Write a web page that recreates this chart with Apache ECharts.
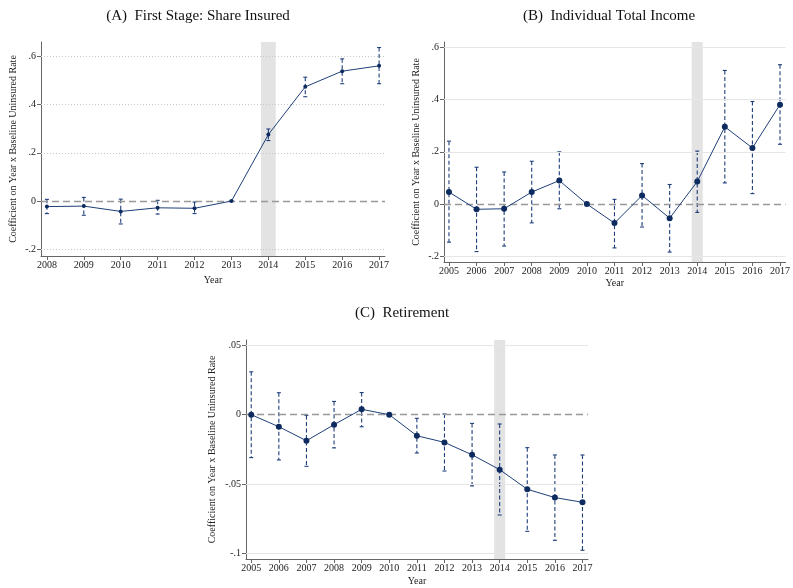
<!DOCTYPE html>
<html>
<head>
<meta charset="utf-8">
<script src="https://cdn.jsdelivr.net/npm/echarts@6/dist/echarts.min.js"></script>
<style>
  html, body { margin: 0; padding: 0; background: #fff; }
  #main { width: 793px; height: 588px; }
</style>
</head>
<body>
<div id="main"></div>
<script>
// Panel A: First Stage
var yearsA = [2008, 2009, 2010, 2011, 2012, 2013, 2014, 2015, 2016, 2017];
var coefA = [-0.023, -0.021, -0.043, -0.028, -0.030, 0, 0.276, 0.474, 0.539, 0.561];
var loA = [-0.052, -0.059, -0.095, -0.054, -0.052, 0, 0.251, 0.433, 0.487, 0.487];
var hiA = [0.007, 0.015, 0.008, 0.003, -0.004, 0, 0.299, 0.514, 0.590, 0.637];
var yTicksA = [-0.2, 0, 0.2, 0.4, 0.6];

// Panel B: Individual Total Income
var yearsB = [2005, 2006, 2007, 2008, 2009, 2010, 2011, 2012, 2013, 2014, 2015, 2016, 2017];
var coefB = [0.046, -0.020, -0.018, 0.046, 0.090, 0, -0.073, 0.033, -0.054, 0.086, 0.296, 0.215, 0.381];
var loB = [-0.146, -0.182, -0.161, -0.072, -0.018, 0, -0.168, -0.088, -0.184, -0.032, 0.081, 0.040, 0.229];
var hiB = [0.241, 0.141, 0.123, 0.164, 0.200, 0, 0.018, 0.155, 0.075, 0.203, 0.512, 0.393, 0.534];
var yTicksB = [-0.2, 0, 0.2, 0.4, 0.6];

// Panel C: Retirement
var yearsC = [2005, 2006, 2007, 2008, 2009, 2010, 2011, 2012, 2013, 2014, 2015, 2016, 2017];
var coefC = [0, -0.0087, -0.0188, -0.0072, 0.0039, 0, -0.0152, -0.0200, -0.0290, -0.0397, -0.0539, -0.0599, -0.0633];
var loC = [-0.031, -0.0327, -0.0373, -0.024, -0.0087, 0, -0.0277, -0.0407, -0.0515, -0.0725, -0.0843, -0.0908, -0.098];
var hiC = [0.031, 0.0159, -0.0005, 0.0096, 0.016, 0, -0.0026, 0.0005, -0.0063, -0.0067, -0.0238, -0.0291, -0.0291];
var yTicksC = [-0.1, -0.05, 0, 0.05];

var titles = ['(A)  First Stage: Share Insured', '(B)  Individual Total Income', '(C)  Retirement'];
var yName = 'Coefficient on Year x Baseline Uninsured Rate';

var navy = '#1f3f7a';
var serif = '"Liberation Serif", "DejaVu Serif", serif';

function fmtY(v) {
    if (v === 0) return '0';
    var s = String(Math.abs(v)).replace(/^0/, '');
    return (v < 0 ? '-' : '') + s;
}

function pairs(xs, ys) {
    return xs.map(function (x, i) { return [x, ys[i]]; });
}

function ciData(xs, lo, hi) {
    return xs.map(function (x, i) { return [x, lo[i], hi[i]]; });
}

// dashed whisker with small caps
function renderCI(params, api) {
    var x = api.value(0);
    var top = api.coord([x, api.value(2)]);
    var bot = api.coord([x, api.value(1)]);
    var cap = 2;
    var st = { stroke: navy, lineWidth: 1.1 };
    return {
        type: 'group',
        children: [
            { type: 'line', shape: { x1: top[0], y1: top[1], x2: bot[0], y2: bot[1] },
              style: { stroke: navy, lineWidth: 1.1, lineDash: [4, 2.5] } },
            { type: 'line', shape: { x1: top[0] - cap, y1: top[1], x2: top[0] + cap, y2: top[1] }, style: st },
            { type: 'line', shape: { x1: bot[0] - cap, y1: bot[1], x2: bot[0] + cap, y2: bot[1] }, style: st }
        ]
    };
}

var panels = [
    { years: yearsA, coef: coefA, lo: loA, hi: hiA, ticks: yTicksA, xmin: 2007.84, xmax: 2017.16, ymin: -0.228, ymax: 0.66,
      grid: { left: 41, right: 408, top: 42, bottom: 332 }, dotted: true, sym: 4, yGap: 23, xGap: 19 },
    { years: yearsB, coef: coefB, lo: loB, hi: hiB, ticks: yTicksB, xmin: 2004.82, xmax: 2017.2, ymin: -0.222, ymax: 0.621,
      grid: { left: 444, right: 1, top: 42, bottom: 326 }, dotted: false, sym: 6, yGap: 23, xGap: 16 },
    { years: yearsC, coef: coefC, lo: loC, hi: hiC, ticks: yTicksC, xmin: 2004.81, xmax: 2017.2, ymin: -0.1043, ymax: 0.054,
      grid: { left: 246, right: 205, top: 340, bottom: 29 }, dotted: false, sym: 6, yGap: 29, xGap: 17 }
];

var grids = [], xAxes = [], yAxes = [], series = [];

panels.forEach(function (p, i) {
    grids.push(p.grid);
    xAxes.push({
        type: 'value', gridIndex: i, min: p.xmin, max: p.xmax,
        name: 'Year', nameLocation: 'middle', nameGap: p.xGap,
        nameTextStyle: { fontFamily: serif, fontSize: 10, color: '#222' },
        axisLine: { show: true, onZero: false, lineStyle: { color: '#666' } },
        axisTick: { show: true, length: 4, lineStyle: { color: '#666' }, customValues: p.years },
        axisLabel: { fontFamily: serif, fontSize: 10, color: '#222', margin: 4, customValues: p.years,
                     formatter: function (v) { return String(Math.round(v)); } },
        splitLine: { show: false }
    });
    yAxes.push({
        type: 'value', gridIndex: i, min: p.ymin, max: p.ymax,
        name: yName, nameLocation: 'middle', nameGap: p.yGap,
        nameTextStyle: { fontFamily: serif, fontSize: 10, color: '#222' },
        axisLine: { show: true, onZero: false, lineStyle: { color: '#666' } },
        axisTick: { show: true, length: 4, lineStyle: { color: '#666' }, customValues: p.ticks },
        axisLabel: { fontFamily: serif, fontSize: 10, color: '#222', margin: 5, customValues: p.ticks, formatter: fmtY },
        splitLine: { show: false }
    });

    // grid lines (zero gets the dashed reference line instead)
    var gl = p.ticks.filter(function (t) { return t !== 0; }).map(function (t) { return { yAxis: t }; });
    series.push({
        type: 'line', xAxisIndex: i, yAxisIndex: i, data: [], silent: true, z: 1,
        markArea: {
            silent: true,
            itemStyle: { color: '#e3e3e3' },
            data: [[{ xAxis: 2013.8 }, { xAxis: 2014.2 }]]
        },
        markLine: {
            silent: true, symbol: 'none', label: { show: false },
            lineStyle: p.dotted ? { color: '#c8c8c8', type: [1, 2], width: 1 } : { color: '#e6e6e6', type: 'solid', width: 1.2 },
            data: gl
        }
    });
    series.push({
        type: 'line', xAxisIndex: i, yAxisIndex: i, data: [], silent: true, z: 3,
        markLine: {
            silent: true, symbol: 'none', label: { show: false },
            lineStyle: { color: '#999', type: [7, 4], width: 1.3 },
            data: [{ yAxis: 0 }]
        }
    });
    series.push({
        type: 'custom', xAxisIndex: i, yAxisIndex: i, z: 4, silent: true,
        data: ciData(p.years, p.lo, p.hi),
        encode: { x: 0, y: [1, 2] },
        renderItem: renderCI
    });
    series.push({
        type: 'line', xAxisIndex: i, yAxisIndex: i, z: 5, silent: true,
        data: pairs(p.years, p.coef),
        symbol: 'circle', symbolSize: p.sym,
        lineStyle: { color: navy, width: 1 },
        itemStyle: { color: '#0d2b5e' }
    });
});

var myChart = echarts.init(document.getElementById('main'));
myChart.setOption({
    animation: false,
    backgroundColor: '#fff',
    title: [
        { text: titles[0], left: 193, top: 4, textAlign: 'center', textStyle: { fontFamily: serif, fontSize: 15, fontWeight: 'normal', color: '#111' } },
        { text: titles[1], left: 604, top: 4, textAlign: 'center', textStyle: { fontFamily: serif, fontSize: 15, fontWeight: 'normal', color: '#111' } },
        { text: titles[2], left: 397, top: 301, textAlign: 'center', textStyle: { fontFamily: serif, fontSize: 15, fontWeight: 'normal', color: '#111' } }
    ],
    grid: grids,
    xAxis: xAxes,
    yAxis: yAxes,
    series: series
});
</script>
</body>
</html>
